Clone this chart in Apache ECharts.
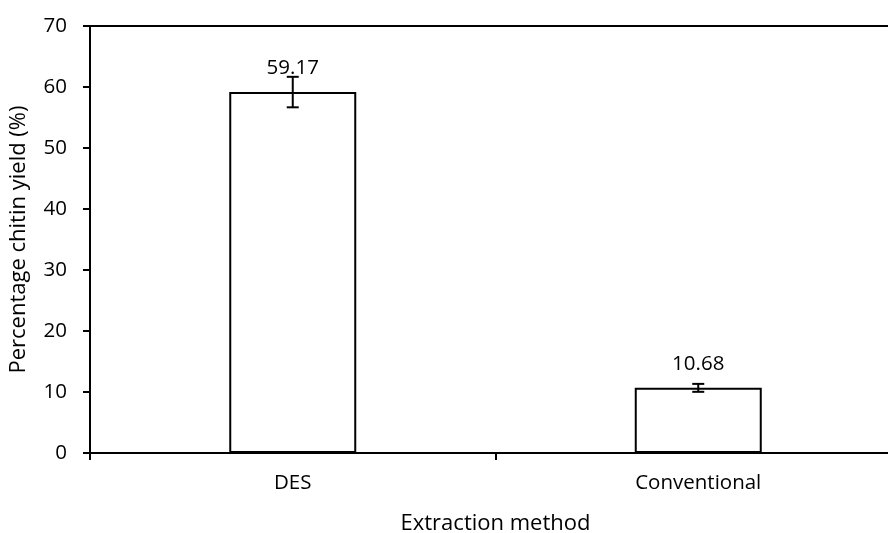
<!DOCTYPE html>
<html>
<head>
<meta charset="utf-8">
<script src="https://cdn.jsdelivr.net/npm/echarts@6/dist/echarts.min.js"></script>
<style>html,body{margin:0;padding:0;background:#fff}#c{width:888px;height:533px}</style>
</head>
<body>
<div id="c"></div>
<script>
const categories = ['DES', 'Conventional'];
const yields = [59.17, 10.68];
const errors = [2.5, 0.65];
const yTicks = { min: 0, max: 70, interval: 10 };

const FONT = 'Open Sans';
const chart = echarts.init(document.getElementById('c'), null, { renderer: 'canvas' });
const errData = categories.map((c, i) => [i, yields[i] - errors[i], yields[i] + errors[i]]);

chart.setOption({
  animation: false,
  backgroundColor: '#fff',
  textStyle: { fontFamily: FONT, color: '#000' },
  grid: { left: 90, width: 811, top: 26, height: 427, containLabel: false, outerBoundsMode: 'none' },
  xAxis: [{
    type: 'category',
    data: categories,
    position: 'bottom',
    axisLine: { show: true, lineStyle: { color: '#000', width: 2 } },
    axisTick: { show: true, alignWithLabel: false, length: 7, lineStyle: { color: '#000', width: 2 } },
    axisLabel: { fontSize: 20.5, color: '#000', margin: 20, fontFamily: FONT },
    name: 'Extraction method',
    nameLocation: 'middle',
    nameGap: 60,
    nameTextStyle: { fontSize: 22, color: '#000', fontFamily: FONT }
  }, {
    type: 'category',
    data: categories,
    position: 'top',
    axisLine: { show: true, lineStyle: { color: '#000', width: 2 } },
    axisTick: { show: false },
    axisLabel: { show: false }
  }],
  yAxis: {
    type: 'value',
    min: yTicks.min, max: yTicks.max, interval: yTicks.interval,
    axisLine: { show: true, lineStyle: { color: '#000', width: 2 } },
    axisTick: { show: true, length: 7, lineStyle: { color: '#000', width: 2 } },
    splitLine: { show: false },
    axisLabel: { fontSize: 20.5, color: '#000', margin: 23, fontFamily: FONT },
    name: 'Percentage chitin yield (%)',
    nameLocation: 'middle',
    nameGap: 60,
    nameTextStyle: { fontSize: 22, color: '#000', fontFamily: FONT }
  },
  series: [{
    type: 'bar',
    data: yields,
    barWidth: 127,
    itemStyle: { color: '#fff', borderColor: '#000', borderWidth: 2 },
    label: { show: true, position: 'top', distance: 13, fontSize: 20.5, color: '#000', fontFamily: FONT,
      formatter: p => p.value.toFixed(2) },
    z: 2
  }, {
    type: 'custom',
    data: errData,
    z: 5,
    renderItem: function (params, api) {
      const x = api.value(0);
      const lo = api.coord([x, api.value(1)]);
      const hi = api.coord([x, api.value(2)]);
      const hw = 6;
      const st = { stroke: '#000', lineWidth: 2 };
      return {
        type: 'group',
        children: [
          { type: 'line', shape: { x1: lo[0], y1: lo[1], x2: hi[0], y2: hi[1] }, style: st },
          { type: 'line', shape: { x1: lo[0] - hw, y1: lo[1], x2: lo[0] + hw, y2: lo[1] }, style: st },
          { type: 'line', shape: { x1: hi[0] - hw, y1: hi[1], x2: hi[0] + hw, y2: hi[1] }, style: st }
        ]
      };
    }
  }]
});
</script>
</body>
</html>
